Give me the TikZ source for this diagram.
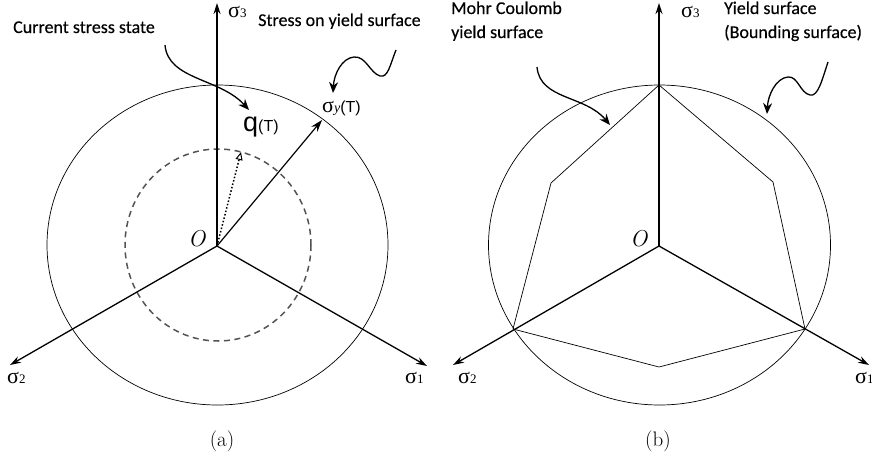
\documentclass[tikz,border=0pt]{standalone}
\usepackage{fontspec}
\usetikzlibrary{arrows.meta}
\newfontfamily\lblfont[FakeBold=0.3]{Carlito}
\newfontfamily\serfont{Liberation Serif}
\newfontfamily\arifont{Liberation Sans}
\newcommand{\sig}[1]{{\serfont\fontsize{22}{22}\selectfont σ\fontsize{13}{13}\selectfont #1}}
\tikzset{
  axis/.style={line width=1.3pt,-{Stealth[length=11pt,width=7pt]}},
  surf/.style={line width=0.7pt},
  pointer/.style={line width=1.3pt,-{Stealth[length=11pt,width=9pt]}},
  lbl/.style={font=\lblfont\fontsize{18}{24}\selectfont,inner sep=0pt,anchor=base west,align=left},
  axlbl/.style={inner sep=0pt,anchor=base west},
  captxt/.style={font=\fontsize{21}{24}\selectfont,inner sep=0pt,anchor=base}
}
\begin{document}
\begin{tikzpicture}[x=1pt,y=-1pt]
\useasboundingbox (0,0) rectangle (872,458);
% ---------------- panel (a)
\coordinate (Oa) at (217,246);
\coordinate (a3) at (217,3);
\coordinate (a2) at (10,365);
\coordinate (a1) at (427,366);
\coordinate (ay) at (322,120);
\coordinate (aq) at (241,152);
\draw[surf] (217.5,245) ellipse [x radius=170.5, y radius=160];
\draw[line width=1.5pt, gray!65!black, dash pattern=on 6pt off 4.5pt] (218,245) ellipse [x radius=93, y radius=96];
\draw[axis] (Oa) -- (a3);
\draw[axis] (Oa) -- (a2);
\draw[axis] (Oa) -- (a1);
\draw[line width=1.2pt,-{Stealth[length=12pt,width=8pt]}] (Oa) -- (ay);
\draw[line width=1.5pt, dash pattern=on 1.5pt off 2pt, -{Triangle[open,length=8pt,width=7pt,line width=1pt]}] (Oa) -- (aq);
\node[axlbl] (la3) at (228,17) {\sig{3}};
\node[axlbl] (la2) at (7,383) {\sig{2}};
\node[axlbl] (la1) at (405,383) {\sig{1}};
\node[axlbl] (lO) at (188,246) {\fontsize{23}{23}\selectfont\itshape O};
\node[axlbl] (lq) at (243,131) {\arifont\fontsize{27}{27}\selectfont q\fontsize{16}{16}\selectfont(T)};
\node[axlbl] (lsy) at (322,112) {\serfont\fontsize{22}{22}\selectfont σ\fontsize{14}{14}\selectfont\itshape y\arifont\upshape\fontsize{16}{16}\selectfont(T)};
\node[lbl] (tcur) at (13,33) {Current stress state};
\node[lbl] (tsy) at (258,26) {Stress on yield surface};
\coordinate (c1s) at (165,45);
\coordinate (c1e) at (249,110);
\draw[pointer] (c1s) .. controls (168,80) and (220,78) .. (c1e);
\coordinate (c2s) at (396,50);
\coordinate (c2e) at (333,93);
\draw[pointer] (c2s) .. controls (390,65) and (388,78) .. (380,76) .. controls (370,73) and (366,56) .. (354,57) .. controls (342,58) and (334,74) .. (c2e);
\node[captxt] (capa) at (222,446) {(a)};
% ---------------- panel (b)
\coordinate (Ob) at (659,246);
\coordinate (b3) at (659,3);
\coordinate (b2) at (453,365);
\coordinate (b1) at (869,365);
\draw[surf] (659.5,245) ellipse [x radius=171, y radius=160];
\draw[surf] (659,85) -- (773,182) -- (805,329) -- (659,367) -- (513,329) -- (551,183) -- cycle;
\draw[axis] (Ob) -- (b3);
\draw[axis] (Ob) -- (b2);
\draw[axis] (Ob) -- (b1);
\node[axlbl] (lb3) at (681,17) {\sig{3}};
\node[axlbl] (lb2) at (458,383) {\sig{2}};
\node[axlbl] (lb1) at (855,383) {\sig{1}};
\node[axlbl] (lOb) at (630,246) {\fontsize{23}{23}\selectfont\itshape O};
\node[lbl] (tmc) at (451,38) {Mohr Coulomb\\yield surface};
\node[lbl] (tys) at (724,38) {Yield surface\\(Bounding surface)};
\coordinate (c3s) at (537,67);
\coordinate (c3e) at (610,125);
\draw[pointer] (c3s) .. controls (540,100) and (585,95) .. (c3e);
\coordinate (c4s) at (828,62);
\coordinate (c4e) at (767,114);
\draw[pointer] (c4s) .. controls (822,80) and (818,97) .. (810,95) .. controls (800,93) and (798,76) .. (788,77) .. controls (776,78) and (768,95) .. (c4e);
\node[captxt] (capb) at (658,446) {(b)};
\end{tikzpicture}
\end{document}
